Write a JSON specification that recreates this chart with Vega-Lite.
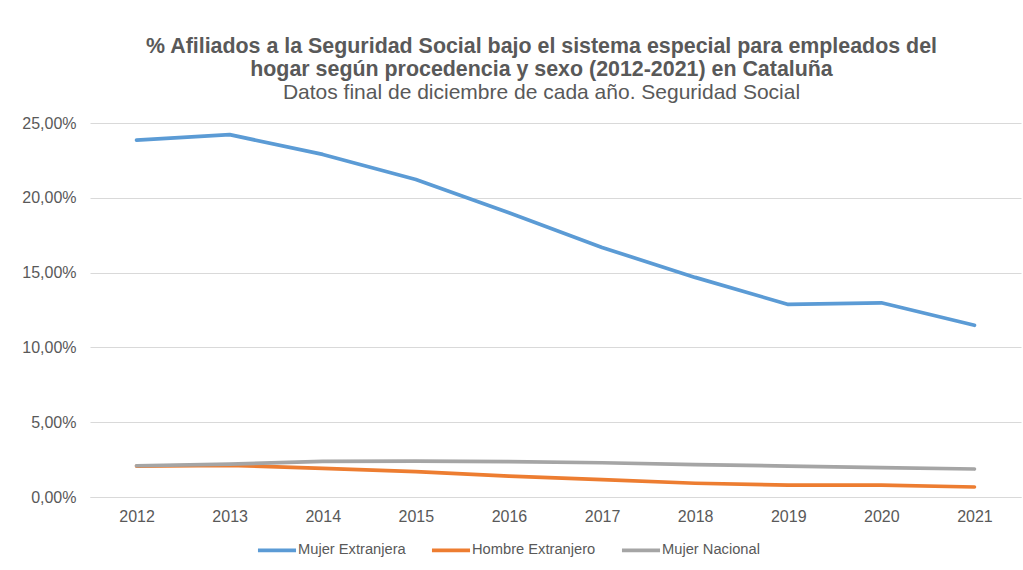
{
  "$schema": "https://vega.github.io/schema/vega-lite/v6.json",
  "width": 931,
  "height": 374,
  "autosize": "none",
  "padding": {"left": 90, "top": 123, "right": 2, "bottom": 73},
  "background": "white",
  "title": {
    "text": ["% Afiliados a la Seguridad Social bajo el sistema especial para empleados del", "hogar según procedencia y sexo (2012-2021) en Cataluña"],
    "subtitle": "Datos final de diciembre de cada año. Seguridad Social",
    "anchor": "middle",
    "dx": -14,
    "font": "Liberation Sans",
    "fontSize": 21.4,
    "fontWeight": "bold",
    "color": "#595959",
    "lineHeight": 23.5,
    "subtitleFont": "Liberation Sans",
    "subtitleFontSize": 21,
    "subtitleColor": "#595959",
    "subtitlePadding": 1.5,
    "offset": 12
  },
  "data": {
    "values": [
      {"year": "2012", "serie": "Mujer Extranjera", "pct": 23.85},
      {"year": "2013", "serie": "Mujer Extranjera", "pct": 24.22},
      {"year": "2014", "serie": "Mujer Extranjera", "pct": 22.9},
      {"year": "2015", "serie": "Mujer Extranjera", "pct": 21.22},
      {"year": "2016", "serie": "Mujer Extranjera", "pct": 19.0},
      {"year": "2017", "serie": "Mujer Extranjera", "pct": 16.68},
      {"year": "2018", "serie": "Mujer Extranjera", "pct": 14.68},
      {"year": "2019", "serie": "Mujer Extranjera", "pct": 12.87},
      {"year": "2020", "serie": "Mujer Extranjera", "pct": 12.98},
      {"year": "2021", "serie": "Mujer Extranjera", "pct": 11.48},
      {"year": "2012", "serie": "Hombre Extranjero", "pct": 2.07},
      {"year": "2013", "serie": "Hombre Extranjero", "pct": 2.12},
      {"year": "2014", "serie": "Hombre Extranjero", "pct": 1.92},
      {"year": "2015", "serie": "Hombre Extranjero", "pct": 1.69},
      {"year": "2016", "serie": "Hombre Extranjero", "pct": 1.4},
      {"year": "2017", "serie": "Hombre Extranjero", "pct": 1.16},
      {"year": "2018", "serie": "Hombre Extranjero", "pct": 0.92},
      {"year": "2019", "serie": "Hombre Extranjero", "pct": 0.8},
      {"year": "2020", "serie": "Hombre Extranjero", "pct": 0.8},
      {"year": "2021", "serie": "Hombre Extranjero", "pct": 0.67},
      {"year": "2012", "serie": "Mujer Nacional", "pct": 2.09},
      {"year": "2013", "serie": "Mujer Nacional", "pct": 2.2},
      {"year": "2014", "serie": "Mujer Nacional", "pct": 2.38},
      {"year": "2015", "serie": "Mujer Nacional", "pct": 2.4},
      {"year": "2016", "serie": "Mujer Nacional", "pct": 2.36},
      {"year": "2017", "serie": "Mujer Nacional", "pct": 2.29},
      {"year": "2018", "serie": "Mujer Nacional", "pct": 2.16},
      {"year": "2019", "serie": "Mujer Nacional", "pct": 2.07},
      {"year": "2020", "serie": "Mujer Nacional", "pct": 1.96},
      {"year": "2021", "serie": "Mujer Nacional", "pct": 1.87}
    ]
  },
  "mark": {"type": "line", "strokeWidth": 3.7, "strokeCap": "round", "strokeJoin": "round"},
  "encoding": {
    "x": {
      "field": "year",
      "type": "ordinal",
      "scale": {"type": "point", "padding": 0.5},
      "axis": {
        "title": null,
        "labelAngle": 0,
        "labelFont": "Liberation Sans",
        "labelFontSize": 16,
        "labelColor": "#595959",
        "labelPadding": 11,
        "ticks": false,
        "domainColor": "#D9D9D9",
        "domainWidth": 1.2
      }
    },
    "y": {
      "field": "pct",
      "type": "quantitative",
      "scale": {"domain": [0, 25], "nice": false},
      "axis": {
        "title": null,
        "values": [0, 5, 10, 15, 20, 25],
        "labelExpr": "replace(format(datum.value, '.2f'), '.', ',') + '%'",
        "labelFont": "Liberation Sans",
        "labelFontSize": 16,
        "labelColor": "#595959",
        "labelPadding": 14,
        "ticks": false,
        "domain": false,
        "gridColor": "#D9D9D9",
        "gridWidth": 1.2
      }
    },
    "color": {
      "field": "serie",
      "type": "nominal",
      "sort": ["Mujer Extranjera", "Hombre Extranjero", "Mujer Nacional"],
      "scale": {"domain": ["Mujer Extranjera", "Hombre Extranjero", "Mujer Nacional"], "range": ["#5B9BD5", "#ED7D31", "#A5A5A5"]},
      "legend": {
        "title": null,
        "orient": "none",
        "legendX": 166,
        "legendY": 406,
        "direction": "horizontal",
        "symbolType": "stroke",
        "symbolSize": 1450,
        "symbolStrokeWidth": 3.7,
        "labelFont": "Liberation Sans",
        "labelFontSize": 14.7,
        "labelColor": "#595959",
        "labelOffset": 0,
        "columnPadding": 18
      }
    }
  },
  "config": {"view": {"stroke": null}}
}
